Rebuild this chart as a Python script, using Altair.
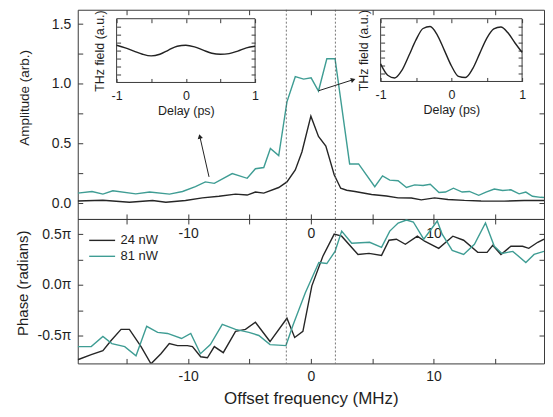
import altair as alt
import pandas as pd

# ---------------- data ----------------
series_names = ["24 nW", "81 nW"]
series_colors = ["#262626", "#3f9d94"]

amp_24_x = [-19.0, -16.95, -14.79, -12.9, -11.82, -10.22, -8.84, -7.49, -6.14, -5.19,
            -4.52, -3.84, -2.62, -1.95, -1.27, -0.73, 0.0, 0.62, 1.22, 1.9,
            2.43, 2.92, 3.59, 4.95, 6.16, 7.11, 8.19, 9.0, 10.08, 11.17,
            12.51, 13.87, 15.76, 17.38, 19.0]
amp_24_y = [0.02, 0.027, 0.01, 0.024, 0.01, 0.024, 0.046, 0.06, 0.078, 0.07,
            0.095, 0.086, 0.133, 0.18, 0.28, 0.43, 0.73, 0.56, 0.48, 0.24,
            0.127, 0.11, 0.10, 0.075, 0.062, 0.046, 0.045, 0.03, 0.046, 0.033,
            0.025, 0.02, 0.019, 0.024, 0.024]

amp_81_x = [-19.0, -17.84, -16.95, -16.14, -14.27, -13.14, -11.52, -10.46, -9.41, -8.60,
            -7.87, -6.41, -5.19, -4.52, -3.84, -3.30, -2.62, -1.95, -1.27, -0.59,
            0.02, 0.62, 1.30, 1.97, 3.16, 3.89, 5.21, 5.84, 6.43, 7.11,
            7.79, 8.46, 9.14, 9.73, 10.44, 10.97, 11.62, 12.33, 12.92, 13.68,
            14.27, 14.95, 15.63, 16.30, 16.97, 17.52, 18.06, 18.73, 19.0]
amp_81_y = [0.086, 0.10, 0.078, 0.106, 0.08, 0.095, 0.078, 0.10, 0.14, 0.18,
            0.168, 0.25, 0.21, 0.29, 0.30, 0.46, 0.40, 0.85, 1.06, 1.04,
            1.05, 0.94, 1.21, 1.21, 0.33, 0.33, 0.14, 0.23, 0.195, 0.19,
            0.133, 0.155, 0.15, 0.16, 0.092, 0.095, 0.127, 0.095, 0.10, 0.068,
            0.095, 0.12, 0.108, 0.114, 0.08, 0.095, 0.06, 0.051, 0.05]

phase_24_x = [-19.0, -17.9, -16.95, -16.28, -15.47, -14.79, -13.84, -13.03, -12.22, -11.54,
              -10.87, -10.06, -9.65, -8.98, -8.43, -7.87, -7.14, -6.14, -5.33, -4.52,
              -3.33, -1.95, -1.32, -0.65, 0.08, 0.97, 1.9, 2.51, 3.84, 4.74,
              5.76, 6.37, 6.97, 7.7, 8.68, 9.27, 10.42, 11.57, 12.45, 13.6,
              14.36, 14.82, 15.49, 16.3, 17.25, 17.76, 18.49, 19.0]
phase_24_y = [-0.74, -0.69, -0.65, -0.55, -0.44, -0.44, -0.61, -0.78, -0.68, -0.58,
              -0.60, -0.60, -0.61, -0.71, -0.72, -0.61, -0.67, -0.46, -0.44, -0.37,
              -0.56, -0.33, -0.52, -0.46, -0.01, 0.28, 0.50, 0.48, 0.30, 0.31,
              0.29, 0.44, 0.45, 0.40, 0.48, 0.43, 0.36, 0.48, 0.44, 0.32,
              0.32, 0.39, 0.30, 0.38, 0.38, 0.36, 0.42, 0.45]

phase_81_x = [-19.0, -17.9, -16.95, -16.22, -15.17, -14.25, -13.38, -12.49, -11.68, -10.54,
              -9.79, -9.0, -8.19, -7.22, -6.14, -5.05, -4.24, -3.33, -2.03, -1.46,
              -0.46, 0.65, 1.3, 1.97, 2.51, 3.33, 4.79, 5.76, 6.43, 7.11,
              7.79, 8.35, 9.2, 10.3, 10.7, 11.52, 12.45, 13.33, 14.23, 14.95,
              15.57, 16.46, 17.52, 18.19, 19.0]
phase_81_y = [-0.61, -0.61, -0.51, -0.58, -0.61, -0.70, -0.41, -0.47, -0.48, -0.53,
              -0.48, -0.68, -0.59, -0.39, -0.44, -0.47, -0.50, -0.59, -0.60, -0.40,
              -0.08, 0.22, 0.21, 0.33, 0.53, 0.41, 0.42, 0.37, 0.53, 0.61,
              0.64, 0.62, 0.45, 0.63, 0.50, 0.34, 0.30, 0.40, 0.61, 0.38,
              0.31, 0.33, 0.22, 0.30, 0.33]

inset1_delay = [-1.0, -0.875, -0.75, -0.625, -0.5, -0.375, -0.25, -0.125, 0.0,
                0.125, 0.25, 0.375, 0.5, 0.625, 0.75, 0.875, 1.0]
inset1_field = [0.67, 0.35, -0.06, -0.46, -0.67, -0.46, 0.06, 0.55, 0.67,
                0.47, 0.06, -0.34, -0.46, -0.38, -0.06, 0.35, 0.55]

inset2_delay = [-1.0, -0.9, -0.8, -0.7, -0.6, -0.5, -0.4, -0.3, -0.2, -0.1, 0.0,
                0.1, 0.2, 0.3, 0.4, 0.5, 0.6, 0.7, 0.8, 0.9, 1.0]
inset2_field = [-1.75, -3.2, -3.55, -2.6, -0.7, 1.3, 2.75, 3.0, 1.95, 0.0, -2.0,
                -3.35, -3.5, -2.4, -0.45, 1.5, 2.7, 2.95, 2.2, 0.9, -0.3]

dashed_x = [-2.0, 2.0]

arrow_x = [-8.30, 0.62]
arrow_y = [0.222, 0.942]
arrow_x2 = [-9.05, 3.45]
arrow_y2 = [0.56, 1.035]
arrow_angle = [347, 72]

x_ticks = [-15, -10, -5, 0, 5, 10, 15]
amp_ticks = [0, 0.25, 0.5, 0.75, 1.0, 1.25, 1.5]
phase_ticks = [-0.5, -0.25, 0, 0.25, 0.5]
delay_ticks = [-1, -0.5, 0, 0.5, 1]
field_ticks = [-3, -2, -1, 0, 1, 2, 3]

X_DOMAIN = [-19, 19]
AMP_DOMAIN = [-0.13, 1.62]
PHASE_DOMAIN = [-0.776, 0.65]
DELAY_DOMAIN = [-1, 1]
FIELD_DOMAIN = [-4, 4]

# ---------------- layout / style ----------------
W, H1, H2 = 468, 210, 145
FONT = "Liberation Sans"
INK = "#3a3a3a"
TXT = "#1e1e1e"
TICK = 5

XLAB = "datum.value % 10 == 0 ? (datum.value < 0 ? '-' + abs(datum.value) : '' + datum.value) : ''"
AMPLAB = "(datum.value * 2) % 1 == 0 ? format(datum.value, '.1f') : ''"
PHLAB = "(datum.value * 2) % 1 == 0 ? (datum.value < 0 ? '-' : '') + format(abs(datum.value), '.1f') + 'π' : ''"
DLAB = "datum.value % 1 == 0 ? (datum.value < 0 ? '-' + abs(datum.value) : '' + datum.value) : ''"


def axis(orient, values, offset=-TICK, tick=TICK, labels=True, title=None, **kw):
    d = dict(orient=orient, offset=offset, tickSize=tick, domain=False, grid=False,
             values=values, tickColor=INK, tickWidth=1, labels=labels,
             labelFont=FONT, labelFontSize=14, labelColor=TXT,
             labelFlush=False, labelOverlap=False,
             titleFont=FONT, titleFontWeight="normal", titleColor=TXT, title=title)
    d.update(kw)
    return alt.Axis(**d)


def long_df(xs, ys, name):
    return pd.DataFrame({"freq": xs, "val": ys, "series": name})


amp_df = pd.concat([long_df(amp_24_x, amp_24_y, series_names[0]),
                    long_df(amp_81_x, amp_81_y, series_names[1])])
phase_df = pd.concat([long_df(phase_24_x, phase_24_y, series_names[0]),
                      long_df(phase_81_x, phase_81_y, series_names[1])])
dash_df = pd.DataFrame({"x": dashed_x})
arrow_df = pd.DataFrame({"x": arrow_x, "y": arrow_y, "x2": arrow_x2, "y2": arrow_y2,
                         "ang": arrow_angle})

xs_main = alt.Scale(domain=X_DOMAIN, nice=False, zero=False)
ys_amp = alt.Scale(domain=AMP_DOMAIN, nice=False, zero=False)
ys_phase = alt.Scale(domain=PHASE_DOMAIN, nice=False, zero=False)
color_scale = alt.Scale(domain=series_names, range=series_colors)

# ---------------- top panel ----------------
amp_lines = alt.Chart(amp_df).mark_line(strokeWidth=1.4, clip=True).encode(
    x=alt.X("freq:Q", scale=xs_main,
            axis=axis("bottom", x_ticks, labelExpr=XLAB, labelPadding=8)),
    y=alt.Y("val:Q", scale=ys_amp,
            axis=axis("left", amp_ticks, labelExpr=AMPLAB, labelPadding=7,
                      title="Amplitude (arb.)", titleFontSize=13.5, titlePadding=20,
                      titleY=88)),
    color=alt.Color("series:N", scale=color_scale, legend=None),
)

dash_top = alt.Chart(dash_df).mark_rule(strokeDash=[2, 2], color="#555555", strokeWidth=0.8).encode(
    x=alt.X("x:Q", scale=xs_main, axis=axis("top", x_ticks, labels=False)),
)

arrow_rules = alt.Chart(arrow_df).mark_rule(color="#222222", strokeWidth=1).encode(
    x=alt.X("x:Q", scale=xs_main, axis=None),
    y=alt.Y("y:Q", scale=ys_amp, axis=axis("right", amp_ticks, labels=False)),
    x2="x2:Q",
    y2="y2:Q",
)

arrow_heads = alt.Chart(arrow_df).mark_point(shape="triangle-up", filled=True, size=28,
                                             color="#222222", opacity=1).encode(
    x=alt.X("x2:Q", scale=xs_main, axis=None),
    y=alt.Y("y2:Q", scale=ys_amp, axis=None),
    angle=alt.Angle("ang:Q", scale=None),
)

main_top = alt.layer(amp_lines, dash_top, arrow_rules, arrow_heads)


def inset(delay, field, x0, x1, y0, y1):
    it = 4
    xs = alt.Scale(domain=DELAY_DOMAIN, range=[x0, x1], nice=False, zero=False)
    ys = alt.Scale(domain=FIELD_DOMAIN, range=[y1, y0], nice=False, zero=False)
    box_df = pd.DataFrame({"x": [DELAY_DOMAIN[0]], "x2": [DELAY_DOMAIN[1]],
                           "y": [FIELD_DOMAIN[0]], "y2": [FIELD_DOMAIN[1]]})
    box = alt.Chart(box_df).mark_rect(fillOpacity=0, stroke=INK, strokeWidth=1).encode(
        x=alt.X("x:Q", scale=xs,
                axis=axis("bottom", delay_ticks, offset=(y1 - it) - H1, tick=it,
                          labelExpr=DLAB, labelFontSize=12.5, labelPadding=7,
                          title="Delay (ps)", titleFontSize=12.5, titlePadding=3)),
        x2="x2:Q",
        y=alt.Y("y:Q", scale=ys,
                axis=axis("left", field_ticks, offset=-(x0 + it), tick=it, labels=False,
                          title="THz field (a.u.)", titleFontSize=12.5, titlePadding=10)),
        y2="y2:Q",
    )
    df = pd.DataFrame({"delay": delay, "field": field})
    curve = alt.Chart(df).mark_line(color="#222222", strokeWidth=1.4,
                                    interpolate="monotone").encode(
        x=alt.X("delay:Q", scale=xs,
                axis=axis("top", delay_ticks, offset=-(y0 + it), tick=it, labels=False)),
        y=alt.Y("field:Q", scale=ys,
                axis=axis("right", field_ticks, offset=(x1 - it) - W, tick=it, labels=False)),
    )
    return alt.layer(box, curve)


inset1 = inset(inset1_delay, inset1_field, 39, 178, 9, 73)
inset2 = inset(inset2_delay, inset2_field, 304, 446, 9, 72)

top = alt.layer(main_top, inset1, inset2).resolve_scale(
    x="independent", y="independent"
).properties(width=W, height=H1)

# ---------------- bottom panel ----------------
phase_lines = alt.Chart(phase_df).mark_line(strokeWidth=1.4, clip=True).encode(
    x=alt.X("freq:Q", scale=xs_main,
            axis=axis("bottom", x_ticks, labelExpr=XLAB, labelPadding=6,
                      title="Offset frequency (MHz)", titleFontSize=17, titlePadding=7)),
    y=alt.Y("val:Q", scale=ys_phase,
            axis=axis("left", phase_ticks, labelExpr=PHLAB, labelPadding=7,
                      title="Phase (radians)", titleFontSize=15, titlePadding=7,
                      titleY=64)),
    color=alt.Color("series:N", scale=color_scale,
                    legend=alt.Legend(orient="none", legendX=17, legendY=14, title=None,
                                      symbolType="M-2,0H2", symbolSize=169,
                                      symbolStrokeWidth=1.4, labelFont=FONT,
                                      labelFontSize=13, labelColor=TXT, labelOffset=11,
                                      rowPadding=1, padding=0)),
)

dash_bottom = alt.Chart(dash_df).mark_rule(strokeDash=[2, 2], color="#555555", strokeWidth=0.8).encode(
    x=alt.X("x:Q", scale=xs_main, axis=axis("top", x_ticks, labels=False)),
)

tick_df = pd.DataFrame({"t": phase_ticks})
right_ticks = alt.Chart(tick_df).mark_point(opacity=0).encode(
    y=alt.Y("t:Q", scale=ys_phase, axis=axis("right", phase_ticks, labels=False)),
)

bottom = alt.layer(phase_lines, dash_bottom, right_ticks).properties(width=W, height=H2)

chart = alt.vconcat(top, bottom, spacing=0, bounds="flush").resolve_legend(
    color="independent"
).configure_view(
    stroke=INK, strokeWidth=1
).properties(
    padding={"left": 6, "top": 0, "right": 0, "bottom": 0}
)

chart.save("out.html", embed_options={"renderer": "svg", "actions": False})
